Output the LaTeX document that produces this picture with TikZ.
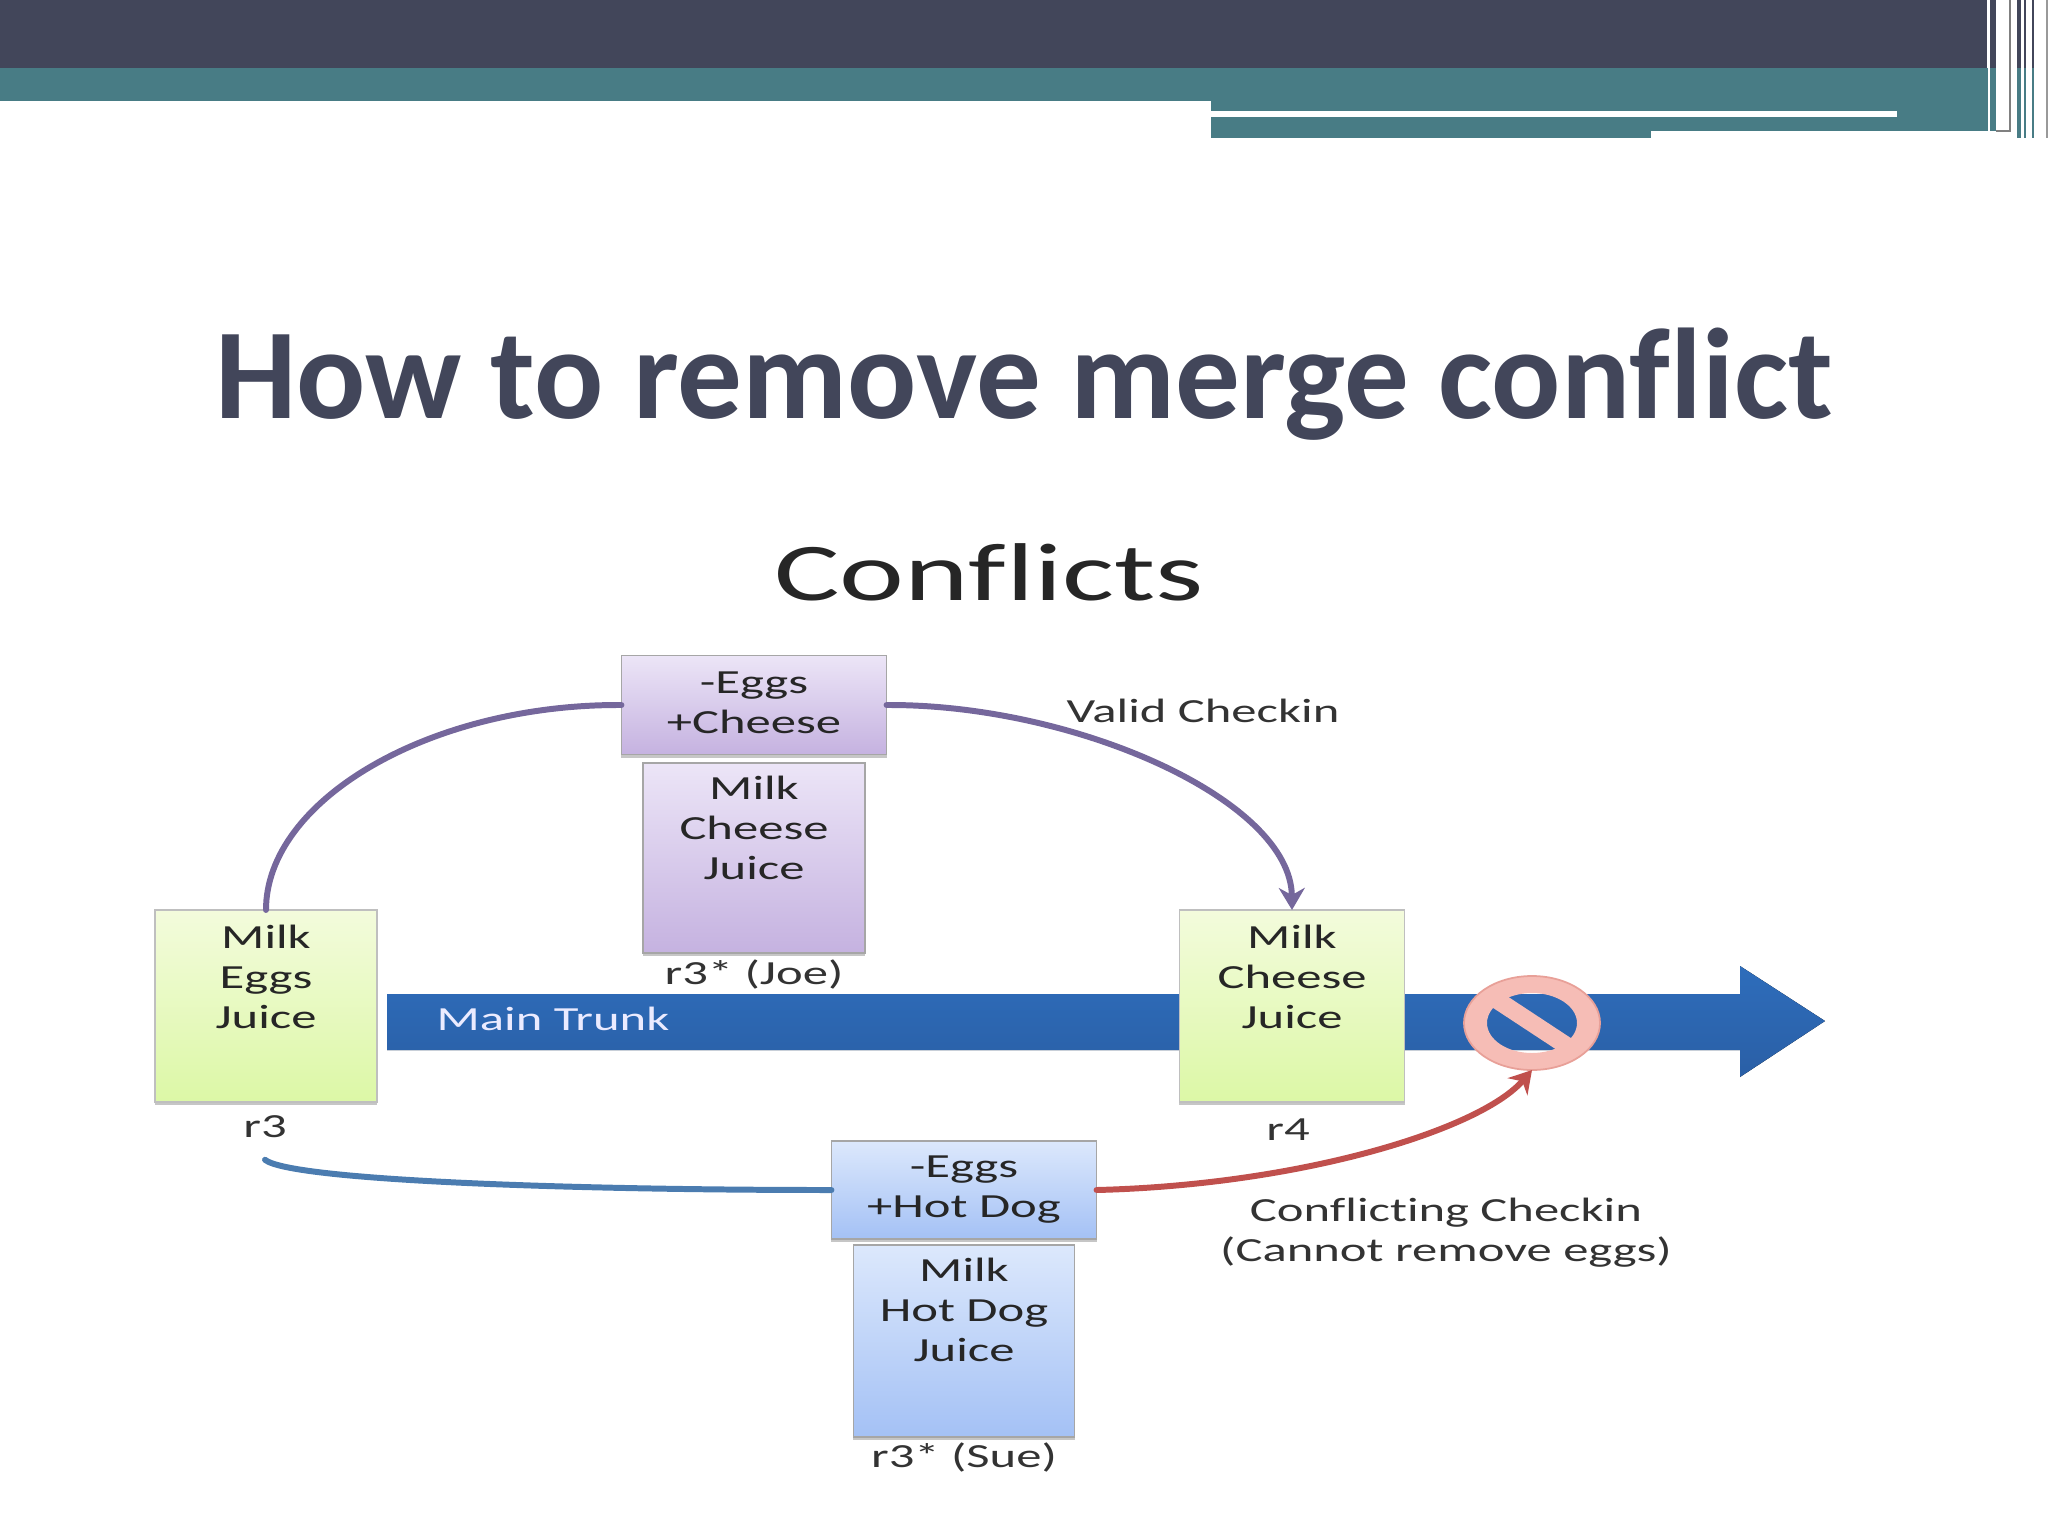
\documentclass[tikz,border=0pt]{standalone}
\usepackage{fontspec}
\usepackage{tikz}
\usetikzlibrary{arrows.meta,shapes.geometric,shadows}
\setmainfont[Ligatures=NoCommon]{Carlito}
\newfontfamily\picfont[FakeStretch=1.5,Ligatures=NoCommon]{Carlito}
\definecolor{slatedark}{HTML}{42465A}
\definecolor{slateteal}{HTML}{487C85}
\definecolor{arcpurple}{HTML}{75679C}
\definecolor{arcblue}{HTML}{4B7CB0}
\definecolor{arcred}{HTML}{C0504D}
\definecolor{trunkblue}{HTML}{2E6DBB}
\definecolor{trunklow}{HTML}{2A5FA6}
\definecolor{stoppink}{HTML}{F6BDB6}
\definecolor{stopedge}{HTML}{E8A098}
\definecolor{purpletop}{HTML}{ECE5F7}
\definecolor{purplelow}{HTML}{C5B2E0}
\definecolor{bluetop}{HTML}{DCE8FC}
\definecolor{bluelow}{HTML}{A4C1F5}
\definecolor{greentop}{HTML}{F3FBDC}
\definecolor{greenlow}{HTML}{DCF8A6}
\tikzset{revbox/.style={draw=#1,line width=.5pt,inner sep=0pt,outer sep=0pt,align=center,
           font=\picfont\fontsize{9.6}{11.4}\selectfont,text=black!85,
           drop shadow={shadow xshift=0pt,shadow yshift=-.9pt,opacity=.45}},
         greenbox/.style={revbox=black!25,top color=greentop,bottom color=greenlow,
           minimum width=2.22cm,minimum height=1.92cm},
         purplebox/.style={revbox=black!35,top color=purpletop,bottom color=purplelow},
         bluebox/.style={revbox=black!35,top color=bluetop,bottom color=bluelow},
         revlabel/.style={font=\picfont\fontsize{9.6}{11.4}\selectfont,text=black!80,inner sep=0pt,
           align=center},
         arc/.style={line width=1.7pt,line cap=round},
         arctip/.style={-{Stealth[length=2.2mm,width=2.6mm]}}}

\begin{document}
\begin{tikzpicture}[x=.01cm,y=-.01cm]
  \useasboundingbox (0,0) rectangle (2048,1536);
  % slide header
  \fill[slateteal] (0,68) rectangle (1988,101);
  \fill[slateteal] (1211,101) rectangle (1988,138);
  \fill[white] (1651,131) rectangle (2048,145);
  \fill[white] (1211,111) rectangle (1897,117);
  \fill[slatedark] (0,0) rectangle (1987,68);
  \fill[slatedark] (1990,0) rectangle (1996,68);
  \fill[slateteal] (1990,68) rectangle (1996,131);
  \foreach \a/\b in {2017/2021,2024/2026,2032/2034}{
    \fill[slatedark] (\a,0) rectangle (\b,68);
    \fill[slateteal] (\a,68) rectangle (\b,138);
  }
  \draw[black!50,line width=.4pt] (2010,0)--(2010,131)--(1996,131);
  \draw[black!40,line width=.4pt] (2047,0)--(2047,138);
  % titles
  \node[font=\bfseries\fontsize{36.7}{44}\selectfont,text=slatedark,inner sep=0pt,anchor=base] (title) at (1024,418)
    {How to remove merge conflict};
  \node[font=\picfont\fontsize{23.3}{28}\selectfont,text=black!85,inner sep=0pt] (heading) at (989,572)
    {Conflicts};
  % trunk
  \fill[top color=trunkblue,bottom color=trunklow] (387,994)--(1740,994)--(1740,966)--(1825,1021)
    --(1740,1077)--(1740,1050)--(387,1050)--cycle;
  \node[font=\picfont\fontsize{9.6}{11.4}\selectfont,text=blue!8,inner sep=0pt] (trunk) at (553,1019)
    {Main Trunk};
  % revisions
  \node[greenbox] (base) at (266,1006) {Milk\\Eggs\\Juice\\[5pt]~};
  \node[greenbox,minimum width=2.25cm] (merged) at (1292,1006) {Milk\\Cheese\\Juice\\[5pt]~};
  \node[purplebox,minimum width=2.65cm,minimum height=.99cm] (joediff) at (754,705) {-Eggs\\+Cheese\\[-9.9pt]~};
  \node[purplebox,minimum width=2.22cm,minimum height=1.90cm] (joe) at (754,858) {Milk\\Cheese\\Juice\\[6pt]~};
  \node[bluebox,minimum width=2.65cm,minimum height=.98cm] (suediff) at (964,1190) {-Eggs\\+Hot Dog};
  \node[bluebox,minimum width=2.21cm,minimum height=1.92cm] (sue) at (964,1341) {Milk\\Hot Dog\\Juice\\[6.5pt]~};
  \node[revlabel] (baselab) at (265,1127) {r3};
  \node[revlabel] (mergedlab) at (1288,1130) {r4};
  \node[revlabel] (joelab) at (754,974) {r3* (Joe)};
  \node[revlabel] (suelab) at (964,1457) {r3* (Sue)};
  \node[revlabel] (valid) at (1203,711) {Valid Checkin};
  \node[revlabel] (conflict) at (1446,1233) {Conflicting Checkin\\(Cannot remove eggs)};
  % stop sign
  \node[ellipse,minimum width=1.36cm,minimum height=.94cm,inner sep=0pt,outer sep=0pt] (stop) at (1532,1023) {};
  \fill[stoppink,even odd rule] (stop.center) ellipse (68 and 47) (stop.center) ellipse (45 and 30);
  \draw[stoppink,line width=5pt] (1494,998)--(1570,1048);
  \draw[stopedge,line width=.5pt] (stop.center) ellipse (68 and 47);
  % checkins
  \draw[arc,arcpurple] (base.north) .. controls (266,800) and (430,704) .. (joediff.west);
  \draw[arc,arcpurple,arctip] (joediff.east) .. controls (1075,704) and (1291,800) .. (merged.north);
  \draw[arc,arcblue] (baselab.south)++(0,21) .. controls (290,1180) and (560,1190) .. (suediff.west);
  \draw[arc,arcred,arctip] (suediff.east) .. controls (1300,1185) and (1480,1130) .. (stop.south);
\end{tikzpicture}
\end{document}
